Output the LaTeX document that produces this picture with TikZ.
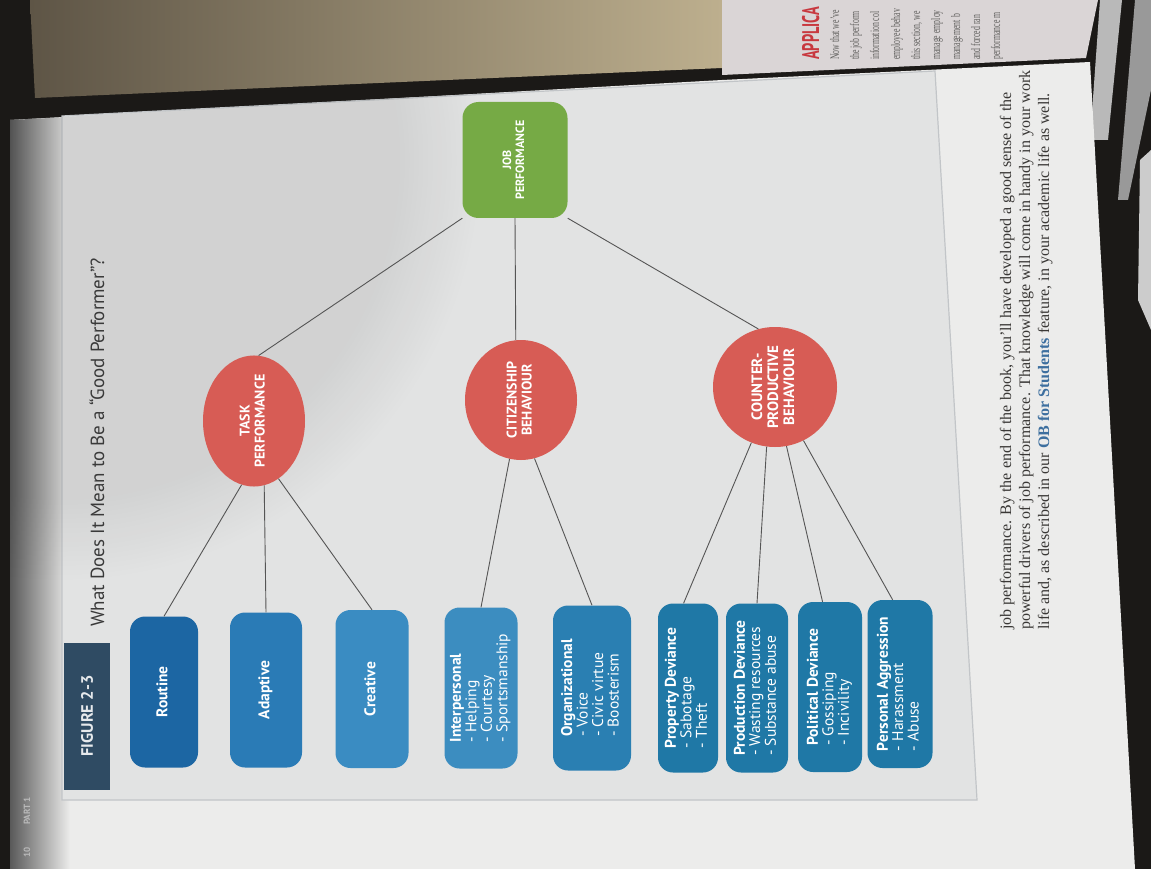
\documentclass[tikz,border=0pt]{standalone}
\usepackage{fontspec}
\setmainfont{Liberation Serif}
\newfontfamily\ptsans{PT Sans}
\usetikzlibrary{shapes.geometric,fadings}
\definecolor{bgdark}{HTML}{1B1917}
\definecolor{beige}{HTML}{BDAF8E}
\definecolor{beigedk}{HTML}{5E5546}
\definecolor{rpage}{HTML}{DAD5D6}
\definecolor{pagec}{HTML}{ECECEB}
\definecolor{panelc}{HTML}{E2E3E3}
\definecolor{paneledge}{HTML}{C2C5C8}
\definecolor{greenc}{HTML}{76AA45}
\definecolor{redc}{HTML}{D75C55}
\definecolor{linecol}{HTML}{555555}
\definecolor{figboxc}{HTML}{2F4B63}
\definecolor{titlec}{HTML}{3A3A3A}
\definecolor{bodyc}{HTML}{3A3836}
\definecolor{obblue}{HTML}{3D6F9F}
\definecolor{apred}{HTML}{C8383F}
\definecolor{bA}{HTML}{1C66A3}
\definecolor{bB}{HTML}{2A7BB6}
\definecolor{bC}{HTML}{3A8CC2}
\definecolor{bD}{HTML}{3C8DC0}
\definecolor{bE}{HTML}{2A7FB2}
\definecolor{bF}{HTML}{1F78A6}
\newcommand{\rotL}[1]{\rotatebox{90}{\begin{tabular}{@{}l@{}}#1\end{tabular}}}
\newcommand{\rotC}[1]{\rotatebox{90}{\begin{tabular}{@{}c@{}}#1\end{tabular}}}
\tikzset{
  conn/.style={draw=linecol, line width=0.9pt},
  leaf/.style={rectangle, rounded corners=15pt, inner sep=0pt, text=white,
    font=\ptsans\fontsize{15.5}{15}\selectfont},
  hub/.style={ellipse, fill=redc, inner sep=0pt, text=white,
    font=\ptsans\bfseries\fontsize{14}{15}\selectfont},
  rootbox/.style={rectangle, rounded corners=16pt, fill=greenc, inner sep=0pt, text=white,
    font=\ptsans\bfseries\fontsize{12}{13}\selectfont},
  bodyline/.style={rotate=90, anchor=base west, inner sep=0pt, text=bodyc,
    font=\fontsize{16}{18}\selectfont},
  rline/.style={rotate=90, anchor=base west, inner sep=0pt, text=bodyc!80,
    font=\fontsize{13}{14}\selectfont},
}
\begin{document}
\begin{tikzpicture}[x=1pt,y=-1pt]
\useasboundingbox (0,0) rectangle (1151,869);
% background
\fill[bgdark] (0,0) rectangle (1151,869);
% fabric stripes top right
\begin{scope}
\clip (1085,0) -- (1151,0) -- (1151,869) -- (1120,869) -- cycle;
\fill[gray!55] (1100,0) -- (1122,0) -- (1108,140) -- (1090,140) -- cycle;
\fill[gray!80] (1135,0) -- (1151,0) -- (1151,90) -- (1128,200) -- (1118,200) -- cycle;
\fill[gray!40] (1140,160) -- (1151,150) -- (1151,330) -- (1138,300) -- cycle;
\end{scope}
% left (beige) page
\shade[left color=beigedk, right color=beige] (30,0) -- (722,0) -- (722,68) -- (35,98) -- cycle;
% right (top) page
\fill[rpage] (722,0) -- (1098,0) -- (1086,58) -- (722,75) -- cycle;
\node[rotate=90, anchor=base west, inner sep=0pt, text=apred] (apl) at (819,60)
  {\scalebox{0.6}[1]{\ptsans\bfseries\fontsize{24}{26}\selectfont APPLICA}};
\node[rline] (r1) at (839,60) {\scalebox{0.6}[1]{Now that we’ve}};
\node[rline] (r2) at (859,60) {\scalebox{0.6}[1]{the job perform}};
\node[rline] (r3) at (879,60) {\scalebox{0.6}[1]{information col}};
\node[rline] (r4) at (900,60) {\scalebox{0.6}[1]{employee behav}};
\node[rline] (r5) at (920,60) {\scalebox{0.6}[1]{this section, we}};
\node[rline] (r6) at (940,60) {\scalebox{0.6}[1]{manage employ}};
\node[rline] (r7) at (960,60) {\scalebox{0.6}[1]{management b}};
\node[rline] (r8) at (980,60) {\scalebox{0.6}[1]{and forced ran}};
\node[rline] (r9) at (1000,60) {\scalebox{0.6}[1]{performance m}};
% main page
\fill[pagec] (10,120) -- (722,80) -- (1090,62) -- (1135,869) -- (10,869) -- cycle;
\shade[left color=black!65, right color=pagec] (10,120) -- (70,117) -- (70,869) -- (10,869) -- cycle;
% figure panel
\fill[panelc, draw=paneledge, line width=1.2pt] (62,116) -- (935,71) -- (977,800) -- (62,800) -- cycle;
% soft shadow top-left
\begin{scope}
\clip (10,120) -- (722,80) -- (1090,62) -- (1135,869) -- (10,869) -- cycle;
\fill[black, opacity=0.07, path fading=circle with fuzzy edge 20 percent] (60,160) circle (420);
\end{scope}
% page header
\node[rotate=90, anchor=base west, inner sep=0pt, text=gray!55, font=\ptsans\bfseries\fontsize{9}{10}\selectfont] (pg) at (30,858) {10};
\node[rotate=90, anchor=base west, inner sep=0pt, text=gray!55, font=\ptsans\bfseries\fontsize{9}{10}\selectfont] (part) at (30,825) {PART 1};
% caption
\node[rectangle, fill=figboxc, minimum width=46pt, minimum height=147pt, inner sep=0pt,
  text=white!88!figboxc, font=\ptsans\bfseries\fontsize{16.5}{17}\selectfont] (figlab) at (87,716)
  {\rotatebox{90}{FIGURE 2-3}};
\node[rotate=90, anchor=base west, inner sep=0pt, text=titlec, font=\ptsans\fontsize{19}{20}\selectfont]
  (title) at (104,627) {What Does It Mean to Be a “Good Performer”?};
% root
\node[rootbox, minimum width=105pt, minimum height=116pt] (job) at (515,160)
  {\rotC{JOB\\PERFORMANCE}};
% hubs
\node[hub, minimum width=102pt, minimum height=114pt] (task) at (254,421) {\rotC{TASK\\PERFORMANCE}};
\node[hub, minimum width=112pt, minimum height=120pt] (cit) at (521,400) {\rotC{CITIZENSHIP\\BEHAVIOUR}};
\node[hub, minimum width=124pt, minimum height=120pt, font=\ptsans\bfseries\fontsize{15}{16}\selectfont] (cpb) at (775,387) {\rotC{COUNTER-\\PRODUCTIVE\\BEHAVIOUR}};
% leaves
\node[leaf, fill=bA, minimum width=68pt, minimum height=151pt] (routine) at (164,692) {\rotL{\bfseries Routine}};
\node[leaf, fill=bB, minimum width=72pt, minimum height=155pt] (adaptive) at (266,690) {\rotL{\bfseries Adaptive}};
\node[leaf, fill=bC, minimum width=73pt, minimum height=158pt] (creative) at (372,689) {\rotL{\bfseries Creative}};
\node[leaf, fill=bD, minimum width=73pt, minimum height=161pt] (interp) at (481,688)
  {\rotL{{\bfseries Interpersonal}\\- Helping\\- Courtesy\\- Sportsmanship}};
\node[leaf, fill=bE, minimum width=78pt, minimum height=165pt] (org) at (592,688)
  {\rotL{{\bfseries Organizational}\\- Voice\\- Civic virtue\\- Boosterism}};
\node[leaf, fill=bF, minimum width=60pt, minimum height=169pt] (prop) at (688,688)
  {\rotL{{\bfseries Property Deviance}\\- Sabotage\\- Theft}};
\node[leaf, fill=bF, minimum width=62pt, minimum height=169pt] (prod) at (757,688)
  {\rotL{{\bfseries Production Deviance}\\- Wasting resources\\- Substance abuse}};
\node[leaf, fill=bF, minimum width=64pt, minimum height=170pt] (pol) at (830,687)
  {\rotL{{\bfseries Political Deviance}\\- Gossiping\\- Incivility}};
\node[leaf, fill=bF, minimum width=65pt, minimum height=168pt] (pers) at (900,684)
  {\rotL{{\bfseries Personal Aggression}\\- Harassment\\- Abuse}};
% connectors
\draw[conn] (job.south west) -- (task.86);
\draw[conn] (job.south) -- (cit.95);
\draw[conn] (job.south east) -- (cpb.106);
\draw[conn] (task.259) -- (routine.north);
\draw[conn] (task.279) -- (adaptive.north);
\draw[conn] (task.293) -- (creative.north);
\draw[conn] (cit.259) -- (interp.north);
\draw[conn] (cit.283) -- (org.north);
\draw[conn] (cpb.247) -- (prop.93);
\draw[conn] (cpb.262) -- (prod.north);
\draw[conn] (cpb.281) -- (pol.95);
\draw[conn] (cpb.298) -- (pers.95);
% body text
\node[bodyline] (b1) at (1011,630) {job performance. By the end of the book, you’ll have developed a good sense of the};
\node[bodyline] (b2) at (1030,630) {powerful drivers of job performance. That knowledge will come in handy in your work};
\node[bodyline] (b3) at (1049,630) {life and, as described in our \textcolor{obblue}{\textbf{OB for Students}} feature, in your academic life as well.};
\end{tikzpicture}
\end{document}
